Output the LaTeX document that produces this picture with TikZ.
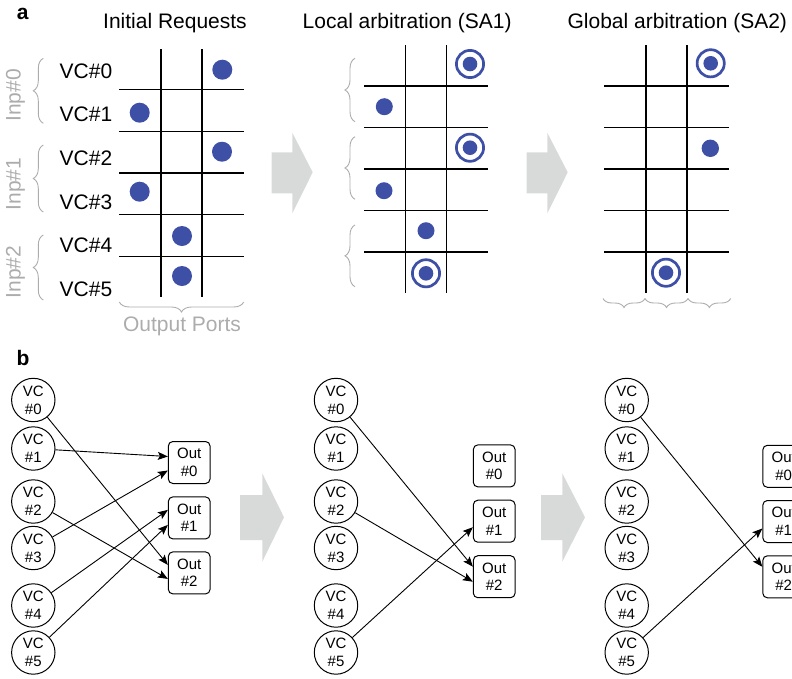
\documentclass[tikz,border=0pt]{standalone}
\usepackage{fontspec}
\setmainfont{Liberation Sans}
\usetikzlibrary{calc,arrows.meta,decorations.pathreplacing}
\definecolor{dotblue}{RGB}{62,79,166}
\definecolor{arrowgray}{RGB}{216,218,217}
\definecolor{softgray}{RGB}{172,172,172}

\begin{document}
\begin{tikzpicture}[x=1pt,y=-1pt,
  title/.style={font=\fontsize{21}{24}\selectfont, anchor=base, inner sep=0pt},
  panel/.style={font=\bfseries\fontsize{21}{24}\selectfont, anchor=base, inner sep=0pt},
  vclabel/.style={font=\fontsize{21}{24}\selectfont, anchor=base west, inner sep=0pt},
  inplabel/.style={font=\fontsize{21}{24}\selectfont, text=softgray, rotate=90, anchor=base, inner sep=0pt},
  portlabel/.style={font=\fontsize{21}{24}\selectfont, text=softgray, anchor=base, inner sep=0pt},
  grid line/.style={line width=1.3pt, black},
  req/.style={fill=dotblue, draw=none},
  granted ring/.style={draw=dotblue, line width=2.7pt},
  curly/.style={decorate, decoration={brace, amplitude=10pt}, draw=softgray, line width=0.9pt},
  small curly/.style={decorate, decoration={brace, amplitude=9pt}, draw=softgray, line width=0.9pt},
  fat arrow/.style={fill=arrowgray, draw=none},
  vc/.style={circle, draw, line width=1pt, minimum size=43.4pt, inner sep=0pt, align=center,
             font=\fontsize{15}{17.7}\selectfont},
  outbox/.style={rectangle, rounded corners=4.5pt, draw, line width=1pt, minimum width=41.7pt,
                 minimum height=42pt, inner sep=0pt, align=center, font=\fontsize{15}{17.7}\selectfont},
  conn/.style={line width=0.9pt, -{Stealth[length=10pt,width=8pt,inset=2pt]}}
]
\useasboundingbox (0,0) rectangle (792,678);
\clip (0,0) rectangle (792,678);

% ---------------- part a ----------------
\node[panel] (pa) at (22.8,19) {a};
\node[title] (t1) at (175,28.3) {Initial Requests};
\node[title] (t2) at (407.2,28.3) {Local arbitration (SA1)};
\node[title] (t3) at (677.3,28.3) {Global arbitration (SA2)};

% request matrix
\foreach \x in {161,202} \draw[grid line] (\x,49.3) -- (\x,296.7);
\foreach \y in {89.3,131.3,173,214.7,256.3} \draw[grid line] (119.3,\y) -- (243.7,\y);
\foreach \k in {0,...,5}
  \node[vclabel] (vcl\k) at (59.5,78.3+43.6*\k) {VC\#\k};
\foreach \k/\yc in {0/95.5,1/184,2/272}
  \node[inplabel] (inp\k) at (20.7,\yc) {Inp\#\k};
\foreach \yb/\yt in {123.3/58.3,212/145,300/235}
  \draw[curly] (43.3,\yb) -- (43.3,\yt);
\draw[curly] (243.7,302) -- (119.3,302);
\node[portlabel] (ports) at (182,331.7) {Output Ports};
\foreach \p in {(222.3,69.7),(139.7,112.7),(222,151.7),(139.7,191.7),(182,236),(182,276)}
  \fill[req] \p circle[radius=10pt];

% after local arbitration
\foreach \x in {405.7,446.7} \draw[grid line] (\x,45) -- (\x,293.3);
\foreach \y in {86,127.3,169,210.3,252} \draw[grid line] (364,\y) -- (488.3,\y);
\foreach \yb/\yt in {121.7/58.3,199.3/136.7,286.7/225}
  \draw[curly] (355,\yb) -- (355,\yt);
\foreach \p in {(384.3,106.7),(384,190.7),(426,230.7)}
  \fill[req] \p circle[radius=8.5pt];
\foreach \p in {(470,64),(470,147.7),(426,273.3)} {
  \draw[granted ring] \p circle[radius=13.6pt];
  \fill[req] \p circle[radius=7.3pt];
}

% after global arbitration
\foreach \x in {646,687} \draw[grid line] (\x,45) -- (\x,293);
\foreach \y in {86,127.7,169,210.7,252} \draw[grid line] (604,\y) -- (728.7,\y);
\foreach \xr/\xl in {645/603,688/645,730.7/688}
  \draw[small curly] (\xr,298.5) -- (\xl,298.5);
\fill[req] (710.3,148.3) circle[radius=8.7pt];
\foreach \p in {(710.7,63.3),(666,272.7)} {
  \draw[granted ring] \p circle[radius=13.6pt];
  \fill[req] \p circle[radius=7.3pt];
}

% stage arrows
\fill[fat arrow] (271.7,152.3) -- (292.3,152.3) -- (292.3,132.7) -- (312.7,172.3)
  -- (292.3,213.3) -- (292.3,193.3) -- (271.7,193.3) -- cycle;
\fill[fat arrow] (526.7,152.3) -- (547.3,152.3) -- (547.3,132.7) -- (567.7,172.3)
  -- (547.3,213.3) -- (547.3,193.3) -- (526.7,193.3) -- cycle;

% ---------------- part b ----------------
\node[panel] (pb) at (23,365) {b};

\fill[fat arrow] (240,495) -- (262.3,495) -- (262.3,473.3) -- (284,517.3)
  -- (262.3,561.7) -- (262.3,540) -- (240,540) -- cycle;
\fill[fat arrow] (541,495) -- (562.3,495) -- (562.3,473.3) -- (585,517.3)
  -- (562.3,561.7) -- (562.3,540) -- (541,540) -- cycle;

% virtual channels of the three stages
\foreach \k/\y in {0/400,1/448.5,2/501.5,3/548,4/605.5,5/652.5} {
  \node[vc] (a\k) at (33.3,\y) {VC\\\#\k};
  \node[vc] (b\k) at (336,\y) {VC\\\#\k};
  \node[vc] (c\k) at (626.7,\y) {VC\\\#\k};
}
% output ports
\foreach \k/\y in {0/462.5,1/517.9,2/572.9}
  \node[outbox] (ao\k) at (189.2,\y) {Out\\\#\k};
\foreach \k/\y in {0/465.9,1/521.2,2/576.7}
  \node[outbox] (bo\k) at (494.2,\y) {Out\\\#\k};
\foreach \k/\y in {0/466.3,1/521.5,2/576.8}
  \node[outbox] (co\k) at (783.7,\y) {Out\\\#\k};

% requests
\draw[conn] (a0) -- ($(ao2.west)+(0,-8)$);
\draw[conn] (a1) -- ($(ao0.west)+(0,-6)$);
\draw[conn] (a2) -- ($(ao2.west)+(0,6)$);
\draw[conn] (a3) -- ($(ao0.west)+(0,8)$);
\draw[conn] (a4) -- ($(ao1.west)+(0,-8)$);
\draw[conn] (a5) -- ($(ao1.west)+(0,7)$);
% local winners
\draw[conn] (b0) -- ($(bo2.west)+(0,-10)$);
\draw[conn] (b2) -- ($(bo2.west)+(0,5)$);
\draw[conn] (b5) -- ($(bo1.west)+(0,6)$);
% global winners
\draw[conn] (c0) -- ($(co2.west)+(0,-10)$);
\draw[conn] (c5) -- ($(co1.west)+(0,7)$);
\end{tikzpicture}
\end{document}
